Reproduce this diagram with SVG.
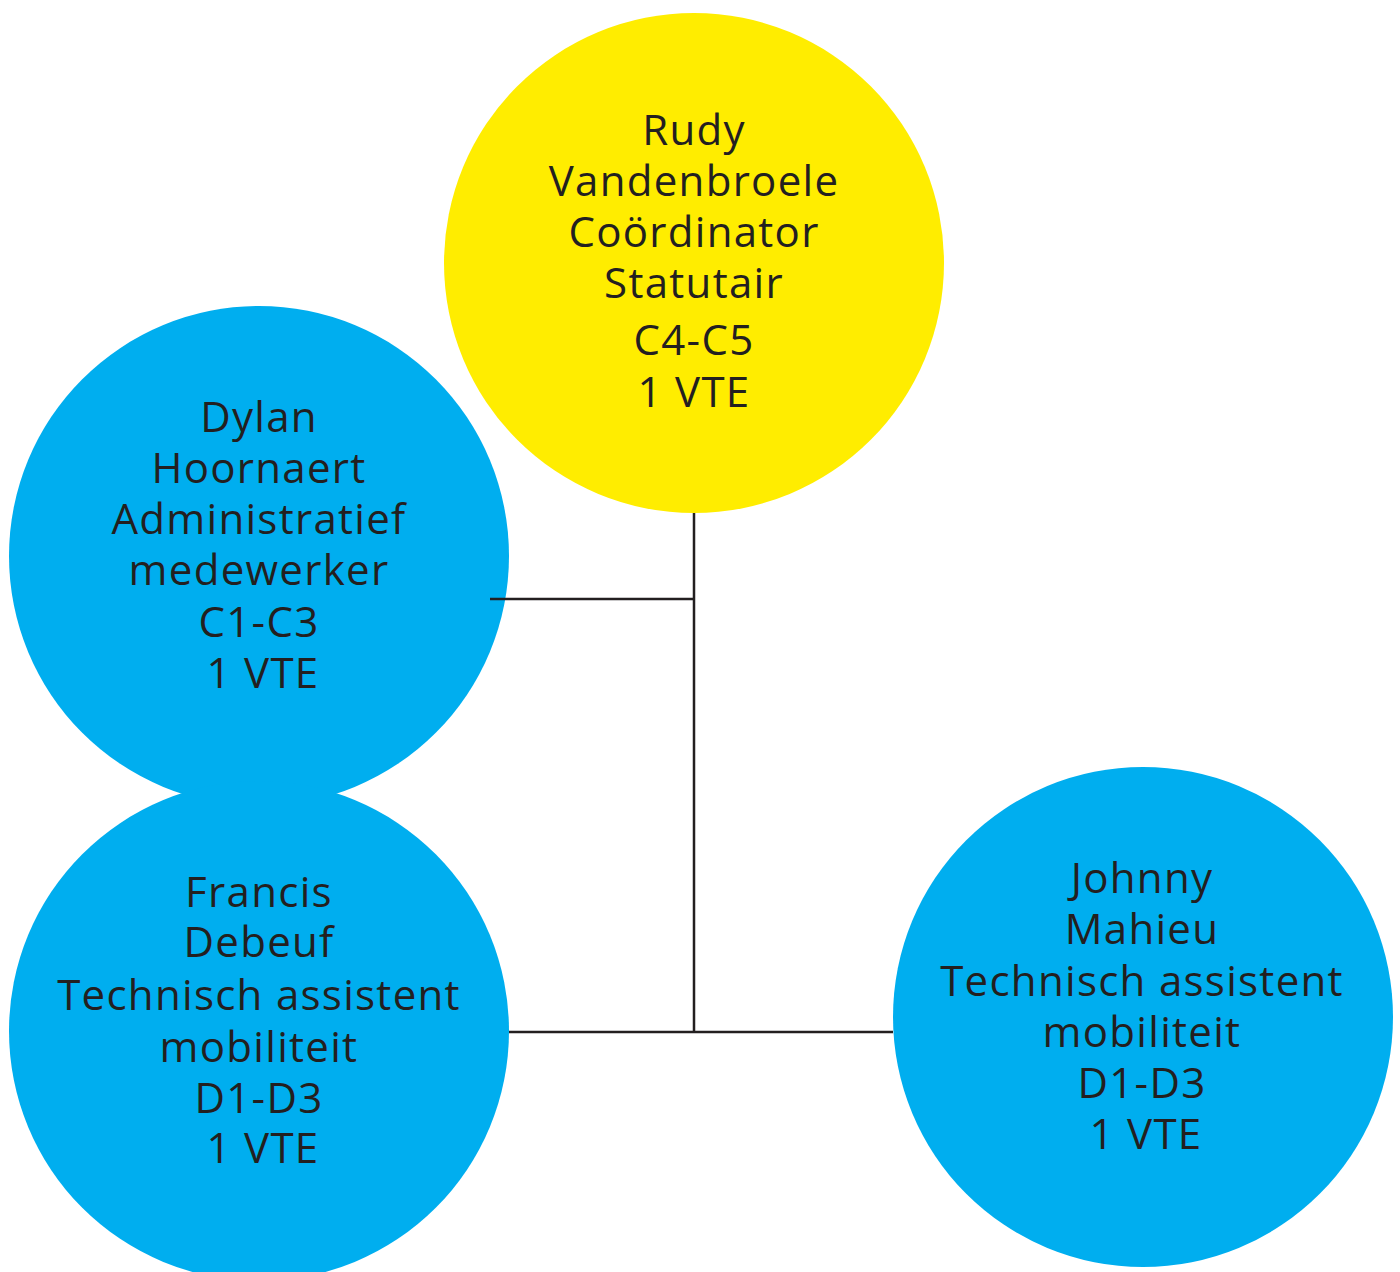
<svg xmlns="http://www.w3.org/2000/svg" width="1400" height="1272" viewBox="0 0 1400 1272">
<style>
.blue{fill:#00aeef}
.yellow{fill:#ffed00}
text{font-family:"Open Sans","Noto Sans",sans-serif;font-size:42px;letter-spacing:1.3px;fill:#231f20;text-anchor:middle}
.conn{stroke:#231f20;stroke-width:2.5;fill:none}
</style>
<rect width="1400" height="1272" fill="#ffffff"/>
<g id="node-rudy">
<circle class="yellow" cx="694" cy="263" r="250"/>
<text x="694" y="145">Rudy</text>
<text x="694" y="196">Vandenbroele</text>
<text x="694" y="247">Coördinator</text>
<text x="694" y="298">Statutair</text>
<text x="694" y="355">C4-C5</text>
<text x="694" y="407">1 VTE</text>
</g>
<g id="node-dylan">
<circle class="blue" cx="259" cy="556" r="250"/>
<text x="259" y="432">Dylan</text>
<text x="259" y="483">Hoornaert</text>
<text x="259" y="534">Administratief</text>
<text x="259" y="585">medewerker</text>
<text x="259" y="637">C1-C3</text>
<text x="263" y="688">1 VTE</text>
</g>
<g id="node-francis">
<circle class="blue" cx="259" cy="1031" r="250"/>
<text x="259" y="907">Francis</text>
<text x="259" y="957">Debeuf</text>
<text x="259" y="1010">Technisch assistent</text>
<text x="259" y="1062">mobiliteit</text>
<text x="259" y="1113">D1-D3</text>
<text x="263" y="1163">1 VTE</text>
</g>
<g id="node-johnny">
<circle class="blue" cx="1143" cy="1017" r="250"/>
<text x="1142" y="893">Johnny</text>
<text x="1142" y="944">Mahieu</text>
<text x="1142" y="996">Technisch assistent</text>
<text x="1142" y="1047">mobiliteit</text>
<text x="1142" y="1098">D1-D3</text>
<text x="1146" y="1149">1 VTE</text>
</g>
<g id="connectors">
<line class="conn" x1="694" y1="513" x2="694" y2="1032"/>
<line class="conn" x1="490" y1="599" x2="694" y2="599"/>
<line class="conn" x1="509" y1="1032" x2="893" y2="1032"/>
</g>
</svg>
